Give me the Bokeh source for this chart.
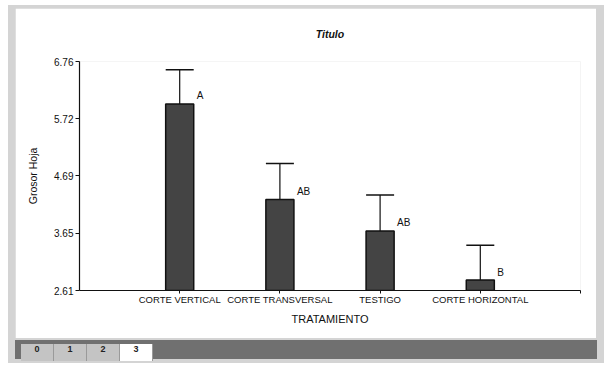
from bokeh.plotting import figure
from bokeh.models import (ColumnDataSource, Range1d, FixedTicker, PrintfTickFormatter,
                          Whisker, TeeHead, Div, Column)
from bokeh.core.properties import value
from bokeh.embed import file_html
from bokeh.resources import INLINE

# ---- data ----
categories = ["CORTE VERTICAL", "CORTE TRANSVERSAL", "TESTIGO", "CORTE HORIZONTAL"]
means = [5.99, 4.26, 3.69, 2.80]
errors = [0.62, 0.65, 0.65, 0.63]
letters = ["A", "AB", "AB", "B"]
y_ticks = [2.61, 3.65, 4.69, 5.72, 6.76]
tab_labels = ["0", "1", "2", "3"]

FONT = "Liberation Sans"
xs = [i + 1 for i in range(len(categories))]
src = ColumnDataSource(dict(
    x=xs, mean=means, upper=[m + e for m, e in zip(means, errors)], letter=letters,
))

p = figure(width=581, height=330, output_backend="svg", toolbar_location=None,
           x_range=Range1d(0, len(categories) + 1), y_range=Range1d(y_ticks[0], y_ticks[-1]),
           min_border_left=64, min_border_right=16, min_border_top=52, min_border_bottom=48,
           title="Titulo")
p.background_fill_color = "white"
p.border_fill_color = "white"
p.outline_line_color = None
p.grid.grid_line_color = None

p.title.align = "center"
p.title.vertical_align = "top"
p.title.text_font = FONT
p.title.text_font_size = "10.5px"
p.title.text_font_style = "bold italic"
p.title.text_color = "#111111"
p.title.standoff = 39
p.title.offset = 0

p.vbar(x="x", top="mean", bottom=y_ticks[0], width=0.28, source=src,
       fill_color="#444444", line_color="#111111", line_width=1.5)

w = Whisker(source=src, base="x", lower="mean", upper="upper", dimension="height",
            line_color="#111111", line_width=1.2,
            upper_head=TeeHead(size=28, line_color="#111111", line_width=1.5),
            lower_head=None)
p.add_layout(w)

p.text(x="x", y="mean", text="letter", source=src, x_offset=17, y_offset=-8,
       text_font=value(FONT), text_font_size="10px", text_color="#111111",
       text_align="left", text_baseline="middle")

# y axis
p.yaxis.ticker = FixedTicker(ticks=y_ticks)
p.yaxis.formatter = PrintfTickFormatter(format="%.2f")
p.yaxis.minor_tick_line_color = None
p.yaxis.major_tick_in = 0
p.yaxis.major_tick_out = 4
p.yaxis.major_label_standoff = 2
p.yaxis.axis_label = "Grosor Hoja"
p.yaxis.axis_label_standoff = 12
p.yaxis.axis_label_text_font = FONT
p.yaxis.axis_label_text_font_size = "10.5px"
p.yaxis.axis_label_text_font_style = "normal"
p.yaxis.major_label_text_font = FONT
p.yaxis.major_label_text_font_size = "10px"

# x axis
p.xaxis.ticker = FixedTicker(ticks=xs + [len(categories) + 1])
overrides = {x: c for x, c in zip(xs, categories)}
overrides[len(categories) + 1] = ""
p.xaxis.major_label_overrides = overrides
p.xaxis.minor_tick_line_color = None
p.xaxis.major_tick_in = 0
p.xaxis.major_tick_out = 3
p.xaxis.major_label_standoff = 0
p.xaxis.axis_label = "TRATAMIENTO"
p.xaxis.axis_label_standoff = 5
p.xaxis.axis_label_text_font = FONT
p.xaxis.axis_label_text_font_size = "11px"
p.xaxis.axis_label_text_font_style = "normal"
p.xaxis.major_label_text_font = FONT
p.xaxis.major_label_text_font_size = "9.5px"

for ax in (p.xaxis, p.yaxis):
    ax.axis_line_color = "#111111"
    ax.axis_line_width = 1.2
    ax.major_tick_line_color = "#111111"
    ax.major_label_text_color = "#111111"
    ax.axis_label_text_color = "#111111"

tab_html = "".join(
    f'<span style="display:inline-block;width:33px;height:17px;line-height:17px;'
    f'text-align:center;font:bold 9px \'{FONT}\';color:#222;margin-top:1px;'
    f'background:{"#ffffff" if i == len(tab_labels) - 1 else "#c4c4c4"};'
    f'border-right:1px solid #9a9a9a">{t}</span>'
    for i, t in enumerate(tab_labels))
tabs = Div(text=f'<div style="width:582px;height:19px;background:#707070;'
                f'padding-left:6px;box-sizing:border-box;white-space:nowrap">{tab_html}</div>',
           width=582, height=19, margin=0)

layout = Column(children=[p, tabs], spacing=2, margin=(5, 0, 0, 8),
                styles={"background-color": "#d4d4d4", "padding": "3px 7px 4px 7px"})

open("out.html", "w").write(file_html(layout, INLINE))
